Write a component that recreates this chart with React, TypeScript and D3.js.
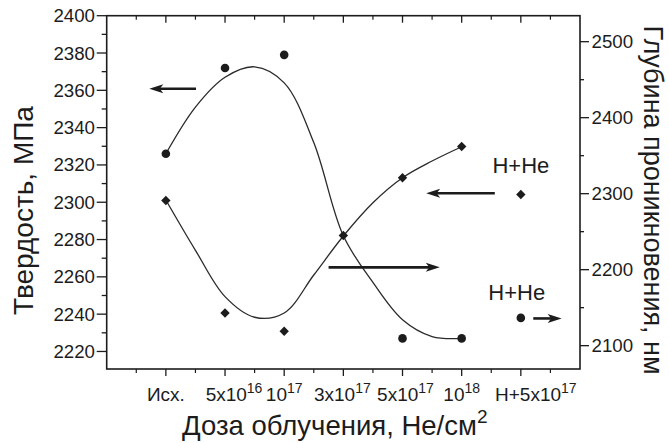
import { useEffect, useRef } from 'react';
import * as d3 from 'd3';

// Подписи по оси X (основа + степень)
const doseLabels = [
  ['Исх.', ''],
  ['5x10', '16'],
  ['10', '17'],
  ['3x10', '17'],
  ['5x10', '17'],
  ['10', '18'],
  ['H+5x10', '17'],
];

// Твердость, МПа (кружки, левая ось)
const hardnessIdx = [0, 1, 2, 4, 5, 6];
const hardnessVal = [2326, 2372, 2379, 2227, 2227, 2238];

// Глубина проникновения, нм (ромбы, правая ось)
const depthIdx = [0, 1, 2, 3, 4, 5, 6];
const depthVal = [2291, 2143, 2119, 2245, 2321, 2362, 2299];

// Сглаживающие кривые
const fitX = [0, 0.5, 1, 1.5, 2, 2.5, 3, 3.5, 4, 4.5, 5];
const hardnessFit = [2326, 2351, 2367, 2372.6, 2364, 2332, 2282, 2257, 2237, 2228, 2227];
const depthFit = [2291.7, 2225.5, 2164.5, 2137.4, 2143, 2193, 2244.3, 2288.1, 2321, 2343, 2361.8];

// Стрелки (в единицах левой оси)
const arrowFrom = [0.51, 2.75, 5.56, 6.21];
const arrowTo = [-0.28, 4.63, 4.4, 6.69];
const arrowY = [2360.8, 2265.1, 2304.8, 2237.7];

// Надписи H+He
const noteX = [6, 5.93];
const noteY = [2315.5, 2247.6];

const leftTicks = [2220, 2240, 2260, 2280, 2300, 2320, 2340, 2360, 2380, 2400];
const rightTicks = [2100, 2200, 2300, 2400, 2500];

export default function App() {
  const svgRef = useRef(null);

  useEffect(() => {
    const width = 669;
    const height = 443;
    const box = { left: 106.7, right: 580, top: 15.7, bottom: 369 };
    const font = '"Liberation Sans", Arial, sans-serif';
    const ink = '#1c1c1c';

    const svg = d3.select(svgRef.current);
    svg.selectAll('*').remove();
    svg.attr('width', width).attr('height', height);

    const x = d3.scaleLinear().domain([-1, 7]).range([box.left, box.right]);
    const yL = d3.scaleLinear().domain([2210.6, 2400]).range([box.bottom, box.top]);
    const yR = d3.scaleLinear().domain([2069.3, 2534.2]).range([box.bottom, box.top]);

    const g = svg.append('g').attr('font-family', font).attr('fill', ink);

    // Рамка
    g.append('rect')
      .attr('x', box.left).attr('y', box.top)
      .attr('width', box.right - box.left).attr('height', box.bottom - box.top)
      .attr('fill', 'none').attr('stroke', ink).attr('stroke-width', 1.6);

    // Деления X: снизу наружу, сверху внутрь
    const xMajor = d3.range(0, 7);
    const xMinor = d3.range(-0.5, 7, 1);
    xMajor.forEach(i => {
      g.append('line').attr('x1', x(i)).attr('x2', x(i))
        .attr('y1', box.bottom).attr('y2', box.bottom + 7).attr('stroke', ink).attr('stroke-width', 1.3);
      g.append('line').attr('x1', x(i)).attr('x2', x(i))
        .attr('y1', box.top).attr('y2', box.top + 7).attr('stroke', ink).attr('stroke-width', 1.3);
    });
    xMinor.forEach(i => {
      g.append('line').attr('x1', x(i)).attr('x2', x(i))
        .attr('y1', box.bottom).attr('y2', box.bottom + 4).attr('stroke', ink).attr('stroke-width', 1.2);
      g.append('line').attr('x1', x(i)).attr('x2', x(i))
        .attr('y1', box.top).attr('y2', box.top + 4).attr('stroke', ink).attr('stroke-width', 1.2);
    });

    // Подписи X
    const labelShift = [0, 9, 0, -1, 3, 0, 15];
    doseLabels.forEach(([base, sup], i) => {
      const t = g.append('text')
        .attr('x', x(i) + labelShift[i]).attr('y', 401)
        .attr('text-anchor', 'middle').attr('font-size', 19);
      t.append('tspan').text(base);
      if (sup) {
        t.append('tspan').attr('font-size', 14).attr('dy', -8).text(sup);
      }
    });

    // Левая ось
    d3.range(2220, 2401, 10).forEach(v => {
      const major = v % 20 === 0;
      g.append('line').attr('x1', box.left - (major ? 10 : 5)).attr('x2', box.left)
        .attr('y1', yL(v)).attr('y2', yL(v)).attr('stroke', ink).attr('stroke-width', 1.3);
    });
    leftTicks.forEach(v => {
      g.append('text').attr('x', 95).attr('y', yL(v)).attr('dy', '0.35em')
        .attr('text-anchor', 'end').attr('font-size', 18.7).text(v);
    });

    // Правая ось
    d3.range(2100, 2501, 50).forEach(v => {
      const major = v % 100 === 0;
      g.append('line').attr('x1', box.right).attr('x2', box.right + (major ? 9 : 4))
        .attr('y1', yR(v)).attr('y2', yR(v)).attr('stroke', ink).attr('stroke-width', 1.3);
    });
    rightTicks.forEach(v => {
      g.append('text').attr('x', 591.5).attr('y', yR(v)).attr('dy', '0.35em')
        .attr('text-anchor', 'start').attr('font-size', 18.7).text(v);
    });

    // Заголовки осей
    g.append('text')
      .attr('transform', 'translate(33,210.5) rotate(-90)')
      .attr('text-anchor', 'middle').attr('font-size', 28)
      .text('Твердость, МПа');

    g.append('text')
      .attr('transform', 'translate(644,200) rotate(90)')
      .attr('text-anchor', 'middle').attr('font-size', 27)
      .text('Глубина проникновения, нм');

    const xt = g.append('text').attr('x', 182).attr('y', 435).attr('font-size', 27.5);
    xt.append('tspan').text('Доза облучения, Не/см');
    xt.append('tspan').attr('font-size', 19).attr('dy', -12).text('2');

    // Кривые
    const lineL = d3.line().x(d => x(d[0])).y(d => yL(d[1])).curve(d3.curveCatmullRom.alpha(0.5));
    const lineR = d3.line().x(d => x(d[0])).y(d => yR(d[1])).curve(d3.curveCatmullRom.alpha(0.5));

    g.append('path').attr('d', lineL(fitX.map((v, i) => [v, hardnessFit[i]])))
      .attr('fill', 'none').attr('stroke', '#2a2a2a').attr('stroke-width', 1.3);
    g.append('path').attr('d', lineR(fitX.map((v, i) => [v, depthFit[i]])))
      .attr('fill', 'none').attr('stroke', '#2a2a2a').attr('stroke-width', 1.3);

    // Точки
    hardnessIdx.forEach((v, i) => {
      g.append('circle').attr('cx', x(v)).attr('cy', yL(hardnessVal[i])).attr('r', 4.3).attr('fill', ink);
    });
    const diamond = d3.symbol().type(d3.symbolSquare).size(44);
    depthIdx.forEach((v, i) => {
      g.append('path').attr('d', diamond())
        .attr('transform', `translate(${x(v)},${yR(depthVal[i])}) rotate(45)`)
        .attr('fill', ink);
    });

    // Стрелки
    arrowFrom.forEach((from, i) => {
      const x1 = x(from);
      const x2 = x(arrowTo[i]);
      const y = yL(arrowY[i]);
      const dir = Math.sign(x2 - x1);
      const headLen = 14;
      g.append('line').attr('x1', x1).attr('x2', x2 - dir * headLen * 0.7)
        .attr('y1', y).attr('y2', y).attr('stroke', ink).attr('stroke-width', 2.6);
      g.append('path')
        .attr('d', `M${x2},${y} L${x2 - dir * headLen},${y - 4.5} L${x2 - dir * headLen * 0.75},${y} L${x2 - dir * headLen},${y + 4.5} Z`)
        .attr('fill', ink);
    });

    // Надписи H+He
    noteX.forEach((v, i) => {
      g.append('text').attr('x', x(v)).attr('y', yL(noteY[i]))
        .attr('text-anchor', 'middle').attr('font-size', 22).text('H+He');
    });
  }, []);

  return (
    <svg ref={svgRef} style={{ position: 'absolute', left: 0, top: 0, background: '#fff' }}></svg>
  );
}
